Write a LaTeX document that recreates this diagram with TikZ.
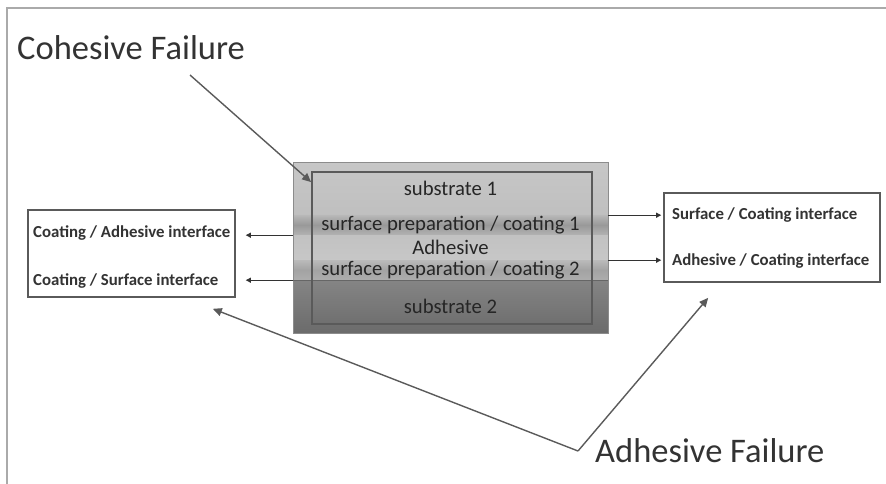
\documentclass[tikz,border=0pt]{standalone}
\usepackage{fontspec}
\setmainfont{Carlito}
\usetikzlibrary{arrows.meta}

\definecolor{ink}{HTML}{333333}
\definecolor{rim}{HTML}{5A5A5A}
\definecolor{framegray}{HTML}{AAAAAA}

\tikzset{
  layer/.style={inner sep=0pt, minimum width=315pt, text=black!85,
    font=\fontsize{20.7}{21}\selectfont},
  ifbox/.style={draw=rim, line width=1.6pt, fill=white},
  iftext/.style={text=ink, font=\bfseries\fontsize{16.8}{18}\selectfont, inner sep=2pt},
  failtext/.style={text=ink, font=\fontsize{34.5}{40}\selectfont, inner sep=0pt},
  ifarrow/.style={draw=ink, line width=0.9pt, -{Triangle[length=5pt,width=5pt]}},
  failarrow/.style={draw=rim, line width=1.4pt, -{Triangle[length=9pt,width=8pt]}}
}

\begin{document}
\begin{tikzpicture}[x=1pt,y=-1pt]
  \useasboundingbox (0,0) rectangle (886,484);
  \draw[framegray, line width=1.5pt] (7,484) -- (7,8) -- (886,8);

  % layered joint
  \node[layer, minimum height=53pt, top color=black!22, bottom color=black!25] (sub1) at (450.5,188.5) {substrate 1};
  \node[layer, minimum height=20pt, top color=black!28, bottom color=black!30, middle color=black!40] (coat1) at (450.5,225) {surface preparation / coating 1};
  \node[layer, minimum height=25pt, top color=black!24, bottom color=black!22] (adh) at (450.5,247.5) {Adhesive};
  \node[layer, minimum height=20pt, top color=black!27, bottom color=black!32, middle color=black!36] (coat2) at (450.5,270) {surface preparation / coating 2};
  \node[layer, minimum height=53pt, top color=black!48, bottom color=black!58] (sub2) at (450.5,306.5) {substrate 2};
  \draw[black!45, line width=0.6pt] (sub1.north west) rectangle (sub2.south east);
  \draw[black!60, line width=1pt] (coat2.south west) -- (coat2.south east);
  \node[draw=rim, line width=1.8pt, minimum width=280pt, minimum height=152pt] (inner) at (452,248) {};

  % interface boxes
  \node[ifbox, minimum width=207pt, minimum height=87pt] (lbox) at (131.5,253.5) {};
  \node[iftext, anchor=west] (cai) at (31,233) {Coating / Adhesive interface};
  \node[iftext, anchor=west] (csi) at (31,281) {Coating / Surface interface};

  \node[ifbox, minimum width=216pt, minimum height=89pt] (rbox) at (772,237.5) {};
  \node[iftext, anchor=west] (sci) at (670,215) {Surface / Coating interface};
  \node[iftext, anchor=west] (aci) at (670,261) {Adhesive / Coating interface};

  \draw[ifarrow, shorten >=10pt] (coat1.south west) -- (coat1.south west -| lbox.east);
  \draw[ifarrow, shorten >=10pt] (coat2.south west) -- (coat2.south west -| lbox.east);
  \draw[ifarrow, shorten >=2pt] (sub1.south east) -- (sub1.south east -| rbox.west);
  \draw[ifarrow, shorten >=2pt] (adh.south east) -- (adh.south east -| rbox.west);

  % failure labels
  \node[failtext, anchor=base west] (cf) at (17,60) {Cohesive Failure};
  \node[failtext, anchor=base west] (af) at (595,462) {Adhesive Failure};
  \coordinate (cfTail) at (190,75);
  \coordinate (afVertex) at (578,451);
  \draw[failarrow] (cfTail) -- ([yshift=-11pt]inner.north west);
  \draw[failarrow] (afVertex) -- ([xshift=-23pt,yshift=-11pt]lbox.south east);
  \draw[failarrow] (afVertex) -- ([xshift=45pt,yshift=-15pt]rbox.south west);
\end{tikzpicture}
\end{document}
